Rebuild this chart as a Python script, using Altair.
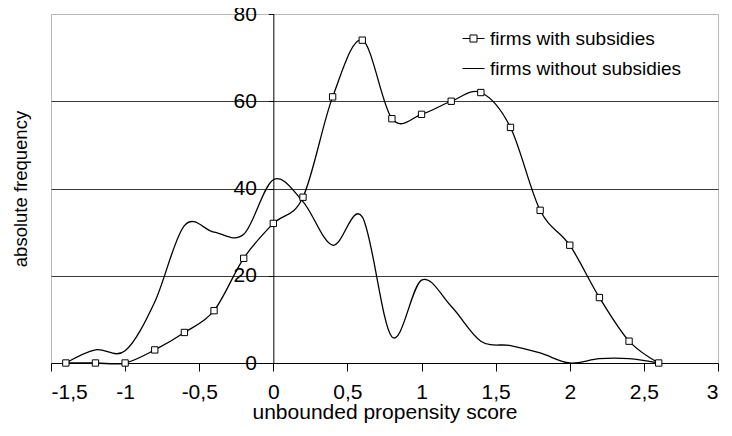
import altair as alt
import pandas as pd

x_vals = [-1.4, -1.2, -1.0, -0.8, -0.6, -0.4, -0.2, 0.0, 0.2, 0.4, 0.6,
          0.8, 1.0, 1.2, 1.4, 1.6, 1.8, 2.0, 2.2, 2.4, 2.6]
with_subsidies = [0, 0, 0, 3, 7, 12, 24, 32, 38, 61, 74,
                  56, 57, 60, 62, 54, 35, 27, 15, 5, 0]
without_subsidies = [0, 3, 2.8, 14, 31.5, 30, 29.5, 42, 37, 27, 33.5,
                     6, 19, 13, 5, 4, 2.3, 0, 1, 1, 0]
series_names = ["firms with subsidies", "firms without subsidies"]
x_ticks = [-1.5, -1, -0.5, 0, 0.5, 1, 1.5, 2, 2.5, 3]
y_ticks = [0, 20, 40, 60, 80]
y_grid = [20, 40, 60]

rows = []
for xv, a, b in zip(x_vals, with_subsidies, without_subsidies):
    rows.append({"x": xv, "y": a, "series": series_names[0]})
    rows.append({"x": xv, "y": b, "series": series_names[1]})
df = pd.DataFrame(rows)
df_sub = df[df["series"] == series_names[0]]

W, H = 667, 349
FONT = "Liberation Sans"
x_scale = alt.Scale(domain=[-1.5, 3], nice=False, zero=False)
y_scale = alt.Scale(domain=[0, 80], nice=False)

x_enc = alt.X("x:Q", scale=x_scale, title="unbounded propensity score",
              axis=alt.Axis(values=x_ticks,
                            labelExpr="replace(toString(datum.value), '.', ',')",
                            grid=False, domainColor="black", tickColor="black",
                            tickSize=8, labelPadding=10, labelFontSize=21,
                            labelFont=FONT, labelColor="black",
                            titleFont=FONT, titleFontSize=21,
                            titleFontWeight="normal", titleColor="black",
                            titleBaseline="alphabetic", titleY=55))

lines = alt.Chart(df).mark_line(interpolate="cardinal", color="black",
                                strokeWidth=1.3).encode(
    x=x_enc,
    y=alt.Y("y:Q", scale=y_scale, title="absolute frequency",
            axis=alt.Axis(values=y_grid, grid=True, gridColor="#3a3a3a",
                          gridWidth=1, labels=False, ticks=False, domain=False,
                          titleFont=FONT, titleFontSize=18.5,
                          titleFontWeight="normal", titleColor="black",
                          titlePadding=21)),
    detail="series:N",
)

offset = -W * 1.5 / 4.5
points = alt.Chart(df_sub).mark_point(shape="square", filled=True, fill="white",
                                      stroke="black", strokeWidth=1,
                                      size=40, opacity=1).encode(
    x=alt.X("x:Q", scale=x_scale),
    y=alt.Y("y:Q", scale=y_scale, title=None,
            axis=alt.Axis(orient="left", values=y_ticks, grid=False,
                          offset=offset, domainColor="black", tickColor="black",
                          tickSize=5, labelPadding=12, labelFontSize=21,
                          labelFont=FONT, labelColor="black")),
)

sub_path = "M-1,0H-0.32M0.32,0H1M-0.32,-0.32H0.32V0.32H-0.32Z"
legend_layer = alt.Chart(df).mark_point(filled=False, color="black",
                                        strokeWidth=1).encode(
    x=alt.X("x:Q", scale=x_scale),
    y=alt.Y("y:Q", scale=y_scale, axis=None),
    shape=alt.Shape("series:N",
                    scale=alt.Scale(domain=series_names,
                                    range=[sub_path, "M-1,0H1"]),
                    legend=alt.Legend(title=None, orient="none",
                                      legendX=411, legendY=13,
                                      symbolSize=484, symbolStrokeWidth=1,
                                      symbolStrokeColor="black",
                                      symbolOpacity=1,
                                      labelFont=FONT, labelFontSize=19,
                                      labelColor="black", labelLimit=400,
                                      labelOffset=5, rowPadding=8)),
).transform_filter("false")

chart = alt.layer(lines, points, legend_layer).resolve_axis(
    y="independent"
).properties(
    width=W, height=H,
    autosize=alt.AutoSizeParams(type="none"),
    padding={"left": 43, "top": 6, "right": 6, "bottom": 62},
    background="white",
).configure_view(
    stroke="#b8b8b8", strokeWidth=1
)

chart.save("out.html", embed_options={"renderer": "svg", "actions": False})
